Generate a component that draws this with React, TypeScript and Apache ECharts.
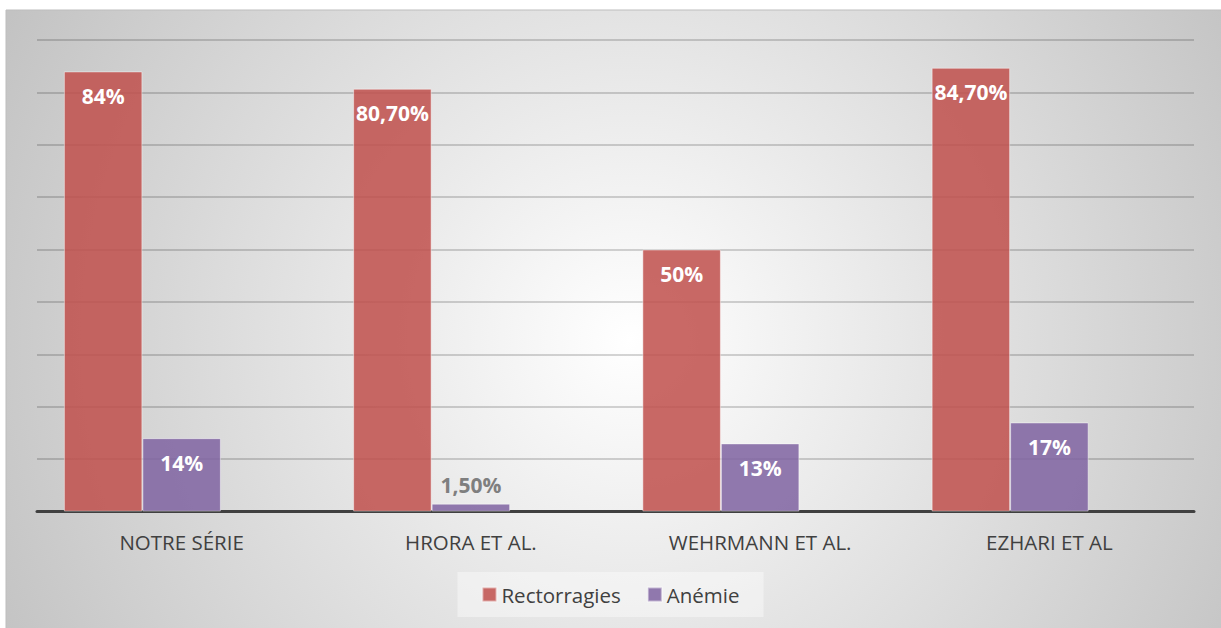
import React, { useEffect, useRef } from "react";
import * as echarts from "echarts";

const categories = ["NOTRE SÉRIE", "HRORA ET AL.", "WEHRMANN ET AL.", "EZHARI ET AL"];
const rectorragies = [84, 80.7, 50, 84.7];
const anemie = [14, 1.5, 13, 17];
const seriesNames = ["Rectorragies", "Anémie"];

const FONT = "'Open Sans', 'Noto Sans', sans-serif";

const fmt = (v: number) =>
  Number.isInteger(v) ? `${v}%` : `${v.toFixed(2).replace(".", ",")}%`;

const makeData = (vals: number[]) =>
  vals.map((v) =>
    v < 5
      ? { value: v, label: { position: "top", distance: 8, color: "#7f7f7f" } }
      : { value: v }
  );

export default function App() {
  const ref = useRef<HTMLDivElement>(null);
  useEffect(() => {
    if (!ref.current) return;
    const chart = echarts.init(ref.current, null, { renderer: "svg" });
    const barLabel = {
      show: true,
      position: "insideTop",
      distance: 14,
      color: "#ffffff",
      fontFamily: FONT,
      fontWeight: "bold",
      fontSize: 21,
      formatter: (p: any) => fmt(p.value),
    };
    chart.setOption({
      animation: false,
      textStyle: { fontFamily: FONT },
      graphic: [
        {
          type: "rect",
          silent: true,
          z: -10,
          shape: { x: 6, y: 10, width: 1225, height: 625 },
          style: {
            fill: {
              type: "radial",
              x: 630,
              y: 340,
              r: 700,
              global: true,
              colorStops: [
                { offset: 0, color: "#ffffff" },
                { offset: 1, color: "#c3c3c3" },
              ],
            },
            stroke: "#bdbdbd",
            lineWidth: 1,
          },
        },
      ],
      legend: {
        data: seriesNames,
        top: 572,
        left: "center",
        itemWidth: 14,
        itemHeight: 14,
        itemGap: 26,
        padding: [12, 24],
        backgroundColor: "rgba(255,255,255,0.4)",
        textStyle: { fontSize: 20.5, color: "#404040", fontFamily: FONT },
        icon: "rect",
      },
      grid: { left: 37, right: 27, top: 40, bottom: 116.5 },
      xAxis: {
        type: "category",
        data: categories,
        axisTick: { show: false },
        axisLine: { lineStyle: { color: "#404040", width: 3 } },
        axisLabel: { fontSize: 20.5, color: "#404040", margin: 20, fontFamily: FONT },
      },
      yAxis: {
        type: "value",
        min: 0,
        max: 90,
        interval: 10,
        axisLabel: { show: false },
        axisLine: { show: false },
        axisTick: { show: false },
        splitLine: { lineStyle: { color: "rgba(0,0,0,0.22)", width: 1.5 } },
      },
      series: [
        {
          name: seriesNames[0],
          type: "bar",
          barWidth: 78.5,
          barGap: "0%",
          data: makeData(rectorragies),
          itemStyle: {
            color: "rgba(192,80,77,0.86)",
            borderColor: "rgba(255,255,255,0.45)",
            borderWidth: 1,
          },
          label: barLabel,
        },
        {
          name: seriesNames[1],
          type: "bar",
          barWidth: 78.5,
          barGap: "0%",
          data: makeData(anemie),
          itemStyle: {
            color: "rgba(128,100,162,0.86)",
            borderColor: "rgba(255,255,255,0.45)",
            borderWidth: 1,
          },
          label: barLabel,
        },
        {
          name: "_empty",
          type: "bar",
          barWidth: 78.5,
          barGap: "0%",
          data: categories.map(() => "-"),
        },
      ],
    });
    return () => chart.dispose();
  }, []);
  return (
    <div
      ref={ref}
      style={{ position: "absolute", left: 0, top: 0, width: 1221, height: 628 }}
    />
  );
}
